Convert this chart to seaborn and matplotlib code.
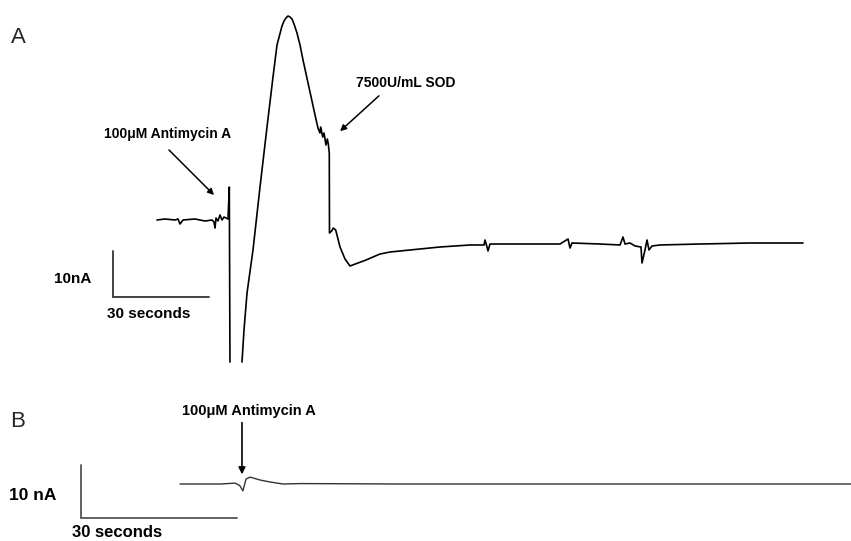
import numpy as np
import pandas as pd
import matplotlib
matplotlib.use("Agg")
import matplotlib.pyplot as plt
import seaborn as sns

# ---------------- Data (time in s, current in nA) ----------------
# Panel A trace, segment 1 (baseline + antimycin spike, saturates low)
a1_time = [0.0, 2.5, 5.63, 6.56, 7.19, 8.13, 11.88, 15.0, 17.19, 17.81, 18.13,
           18.44, 19.06, 19.69, 20.31, 20.94, 22.19, 22.6, 22.8]
a1_curr = [0.0, 0.22, 0.0, 0.22, -0.87, 0.0, 0.22, -0.22, 0.0, -0.43, -1.74,
           0.43, -0.22, 1.09, 0.0, 0.65, 0.22, 7.17, -30.87]
# Panel A trace, segment 2 (recovery from saturation, peak, SOD drop, baseline)
a2_time = [26.56, 27.19, 28.13, 30.0, 32.19, 34.38, 36.25, 37.5, 39.06, 39.69,
           40.31, 40.94, 41.56, 42.19, 42.81, 43.75, 44.69, 45.63, 47.81, 49.38,
           50.31, 50.94, 51.16, 51.78, 52.19,
           52.81, 53.22, 53.53, 53.84, 53.9, 54.59, 55.09, 55.84, 57.19, 58.75,
           60.31, 62.81, 65.31, 67.5, 69.69, 72.81, 79.06, 88.44, 97.81, 102.2,
           102.5, 103.13, 103.44, 104.06, 113.44, 125.94, 128.44, 129.06, 129.69,
           138.44, 144.69, 145.63, 146.25, 147.81, 149.38, 151.25, 151.56, 152.5,
           153.13, 153.75, 154.69, 157.19, 169.69, 185.31, 201.88]
a2_curr = [-30.87, -23.91, -15.87, -6.52, 7.17, 20.22, 31.09, 38.04, 42.17, 43.26,
           43.91, 44.35, 44.13, 43.7, 42.61, 40.65, 38.04, 34.78, 27.83, 22.83,
           20.0, 18.91, 20.22, 18.04, 18.91,
           16.30, 17.61, 16.52, 14.57, -2.83, -2.39, -1.74, -2.17, -5.87, -8.48,
           -10.0, -9.35, -8.70, -8.04, -7.39, -6.96, -6.52, -5.87, -5.43, -5.43,
           -4.35, -5.87, -6.74, -5.22, -5.22, -5.22, -4.13, -6.09, -5.0,
           -5.22, -5.43, -3.70, -5.22, -5.0, -5.65, -5.87, -9.35, -6.52,
           -4.35, -6.52, -5.65, -5.43, -5.22, -5.0, -5.0]

# Panel B trace
b_time = [0.0, 7.7, 10.6, 11.5, 12.1, 12.7, 13.5, 15.4, 17.3, 19.8, 23.1, 42.3,
          80.8, 129.0]
b_curr = [0.0, 0.0, 0.16, -0.3, -1.3, 0.94, 1.3, 0.75, 0.38, 0.0, 0.08, 0.0,
          0.0, 0.0]

# Scale bars: (time origin, current origin), lengths 30 s and 10 nA
scale_len_t = 30
scale_len_i = 10
scale_a_origin = (-13.75, -16.74)
scale_b_origin = (-19.04, -6.42)

# Annotation texts
label_antimycin = "100\u03bcM Antimycin A"
label_sod = "7500U/mL SOD"

# ---------------- Figure ----------------
sns.set_style("white")
plt.rcParams['font.family'] = ['Liberation Sans', 'DejaVu Sans']

W, H = 851, 541
fig = plt.figure(figsize=(W / 100, H / 100), dpi=100)
fig.patch.set_facecolor("white")

A_XLIM = (-157 / 3.2, (W - 157) / 3.2)
A_YLIM = ((220 - 365) / 4.6, 220 / 4.6)
B_XLIM = (-180 / 5.2, (W - 180) / 5.2)
B_YLIM = ((484 - 541) / 5.3, (484 - 365) / 5.3)

axA = fig.add_axes([0, 1 - 365 / H, 1, 365 / H])
axB = fig.add_axes([0, 0, 1, (H - 365) / H])

dfA = pd.DataFrame({
    "t": a1_time + a2_time,
    "I": a1_curr + a2_curr,
    "seg": [1] * len(a1_time) + [2] * len(a2_time),
})
sns.lineplot(data=dfA, x="t", y="I", units="seg", estimator=None, sort=False,
             color="black", lw=1.2, ax=axA, legend=False)

dfB = pd.DataFrame({"t": b_time, "I": b_curr})
sns.lineplot(data=dfB, x="t", y="I", estimator=None, sort=False,
             color="#333333", lw=1.0, ax=axB, legend=False)

axA.set_xlim(*A_XLIM)
axA.set_ylim(*A_YLIM)
axB.set_xlim(*B_XLIM)
axB.set_ylim(*B_YLIM)
axA.axis("off")
axB.axis("off")

# Scale bars
for ax, (t0, i0), col in [(axA, scale_a_origin, "#333333"), (axB, scale_b_origin, "#555555")]:
    ax.plot([t0, t0, t0 + scale_len_t], [i0 + scale_len_i, i0, i0],
            color=col, lw=1.3, solid_joinstyle="miter", clip_on=False)

bold = dict(fontweight="bold", color="black")

# Panel A texts
axA.text(-43.3, 38.5, "A", fontsize=16, ha="center", va="baseline")
axA.text(-26.25, -13.7, "10nA", fontsize=11, ha="center", va="baseline", **bold)
axA.text(-2.66, -21.3, "30 seconds", fontsize=11, ha="center", va="baseline", **bold)
axA.text(3.44, 17.8, label_antimycin, fontsize=10, ha="center", va="baseline", **bold)
axA.annotate("", xy=(18.44, 5.0), xytext=(3.125, 15.65),
             arrowprops=dict(arrowstyle="-|>", lw=1.1, color="black", mutation_scale=9))
axA.text(77.66, 28.9, label_sod, fontsize=10, ha="center", va="baseline", **bold)
axA.annotate("", xy=(56.56, 18.9), xytext=(70.0, 27.4),
             arrowprops=dict(arrowstyle="-|>", lw=1.1, color="black", mutation_scale=9))

# Panel B texts
axB.text(-31.25, 10.75, "B", fontsize=16, ha="center", va="baseline")
axB.text(13.27, 13.0, label_antimycin, fontsize=10.5, ha="center", va="baseline", **bold)
axB.annotate("", xy=(11.92, 1.3), xytext=(11.92, 12.1),
             arrowprops=dict(arrowstyle="-|>", lw=1.2, color="black", mutation_scale=10))
axB.text(-28.27, -3.0, "10 nA", fontsize=12.5, ha="center", va="baseline", **bold)
axB.text(-12.1, -10.0, "30 seconds", fontsize=12, ha="center", va="baseline", **bold)

fig.savefig("out.png", dpi=100, facecolor="white")
